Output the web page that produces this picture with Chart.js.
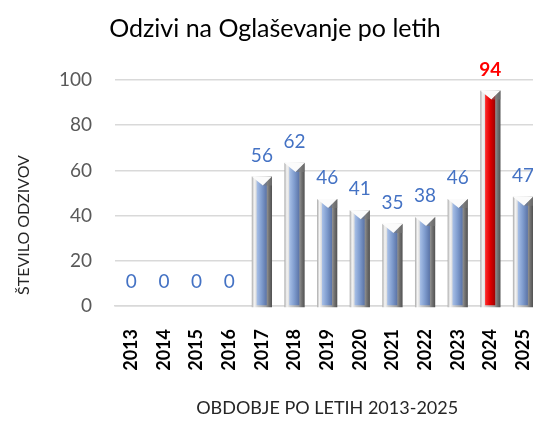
<!DOCTYPE html>
<html>
<head>
<meta charset="utf-8">
<script src="https://cdn.jsdelivr.net/npm/chart.js@4.4.0/dist/chart.umd.min.js"></script>
<style>
  html, body { margin: 0; padding: 0; background: #fff; overflow: hidden; }
  canvas { display: block; }
</style>
</head>
<body>
<canvas id="myChart" width="560" height="421"></canvas>
<script>
var years = ['2013', '2014', '2015', '2016', '2017', '2018', '2019', '2020', '2021', '2022', '2023', '2024', '2025'];
var responses = [0, 0, 0, 0, 56, 62, 46, 41, 35, 38, 46, 94, 47];
var highlightYear = '2024';
var yTicks = [0, 20, 40, 60, 80, 100];

var FONT = 'Lato, "Open Sans", sans-serif';

// draws each bar as a shaded column with a coloured front strip and a pointed cap
var columnLook = {
  id: 'columnLook',
  afterDatasetDraw: function(chart, args) {
    var ctx = chart.ctx;
    var meta = args.meta;
    meta.data.forEach(function(bar, i) {
      var val = responses[i];
      if (!val) return;
      var w = bar.width;
      var left = bar.x - w / 2;
      var top = bar.y - 3;
      var base = bar.base + 2;
      var red = years[i] === highlightYear;

      ctx.save();
      var g = ctx.createLinearGradient(left, 0, left + w, 0);
      g.addColorStop(0, '#a8a8a8');
      g.addColorStop(0.12, '#f4f4f4');
      g.addColorStop(0.3, '#cfcfcf');
      g.addColorStop(0.7, '#a0a0a0');
      g.addColorStop(0.85, '#737373');
      g.addColorStop(1, '#505050');
      ctx.fillStyle = g;
      ctx.fillRect(left, top, w, base - top);

      // front strip
      var sl = left + w * 0.24;
      var sw = w * 0.5;
      var sg = ctx.createLinearGradient(sl, 0, sl + sw, 0);
      if (red) {
        sg.addColorStop(0, '#ff2a2a');
        sg.addColorStop(0.5, '#e00000');
        sg.addColorStop(1, '#a00000');
      } else {
        sg.addColorStop(0, '#a9c1e8');
        sg.addColorStop(0.5, '#7f9cce');
        sg.addColorStop(1, '#5a73a6');
      }
      ctx.fillStyle = sg;
      ctx.fillRect(sl, top + 2, sw, base - top - 4);

      // cap
      var capH = 9;
      ctx.beginPath();
      ctx.moveTo(left, top);
      ctx.lineTo(left + w, top);
      ctx.lineTo(bar.x + w * 0.05, top + capH);
      ctx.closePath();
      ctx.fillStyle = '#fbfbfb';
      ctx.fill();
      ctx.beginPath();
      ctx.moveTo(left + w, top);
      ctx.lineTo(left + w, top + capH);
      ctx.lineTo(bar.x + w * 0.05, top + capH);
      ctx.closePath();
      ctx.fillStyle = 'rgba(120,120,120,0.6)';
      ctx.fill();
      ctx.restore();
    });
  }
};

// value labels above the columns
var valueLabels = {
  id: 'valueLabels',
  afterDatasetsDraw: function(chart) {
    var ctx = chart.ctx;
    var meta = chart.getDatasetMeta(0);
    ctx.save();
    ctx.textAlign = 'center';
    ctx.textBaseline = 'middle';
    meta.data.forEach(function(bar, i) {
      var red = years[i] === highlightYear;
      ctx.font = (red ? 'bold ' : '') + '19px ' + FONT;
      ctx.fillStyle = red ? '#ff0000' : '#4472c4';
      ctx.fillText(String(responses[i]), bar.x, bar.y - 24);
    });
    ctx.restore();
  }
};

// vertical axis title, placed a little lower than the plot centre
var sideTitle = {
  id: 'sideTitle',
  afterDraw: function(chart) {
    var ctx = chart.ctx;
    var area = chart.chartArea;
    ctx.save();
    ctx.translate(24, (area.top + area.bottom) / 2 + 32);
    ctx.rotate(-Math.PI / 2);
    ctx.textAlign = 'center';
    ctx.textBaseline = 'middle';
    ctx.font = '16px ' + FONT;
    ctx.fillStyle = '#262626';
    ctx.fillText('ŠTEVILO ODZIVOV', 0, 0);
    ctx.restore();
  }
};

window.onload = function() {
  var ctx = document.getElementById('myChart').getContext('2d');
  new Chart(ctx, {
    type: 'bar',
    data: {
      labels: years,
      datasets: [{
        label: 'Odzivi',
        data: responses,
        backgroundColor: 'rgba(0,0,0,0)',
        borderWidth: 0,
        barPercentage: 0.62,
        categoryPercentage: 1
      }]
    },
    options: {
      responsive: false,
      animation: false,
      layout: { padding: { left: 0, right: 10, top: 0, bottom: 2 } },
      plugins: {
        legend: { display: false },
        tooltip: { enabled: false },
        title: {
          display: true,
          text: 'Odzivi na Oglaševanje po letih',
          color: '#000',
          font: { family: FONT, size: 25, weight: 'normal' },
          padding: { top: 14, bottom: 36 }
        }
      },
      scales: {
        x: {
          afterFit: function(scale) { scale.height = 113; },
          grid: { display: false },
          border: { color: '#d9d9d9', width: 1.5 },
          ticks: {
            color: '#000',
            font: { family: FONT, size: 18, weight: 'bold' },
            minRotation: 90,
            maxRotation: 90,
            padding: 15
          },
          title: {
            display: true,
            text: 'OBDOBJE PO LETIH 2013-2025',
            color: '#262626',
            font: { family: FONT, size: 18 },
            padding: { top: 20, bottom: 0 }
          }
        },
        y: {
          min: 0,
          max: 100,
          afterFit: function(scale) { scale.width = 115; },
          afterBuildTicks: function(scale) {
            scale.ticks = yTicks.map(function(v) { return { value: v }; });
          },
          grid: { color: '#d9d9d9', lineWidth: 1.5, drawTicks: false },
          border: { display: false },
          ticks: {
            color: '#595959',
            font: { family: FONT, size: 19 },
            padding: 23
          }
        }
      }
    },
    plugins: [columnLook, valueLabels, sideTitle]
  });
};
</script>
</body>
</html>
